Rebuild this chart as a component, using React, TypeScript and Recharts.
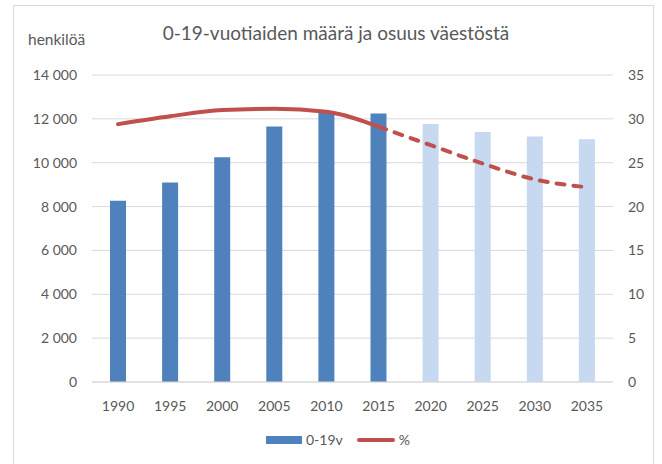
import React from "react";
import { ComposedChart, Bar, Line, XAxis, YAxis, CartesianGrid, Cell } from "recharts";

const years = [1990, 1995, 2000, 2005, 2010, 2015, 2020, 2025, 2030, 2035];
const youthCount = [8260, 9100, 10250, 11650, 12300, 12250, 11770, 11400, 11200, 11070];
const youthShare = [29.4, 30.3, 31.0, 31.15, 30.8, 29.1, 27.0, 24.9, 23.1, 22.2];
const lastActualYear = 2015;
const leftTicks = [0, 2000, 4000, 6000, 8000, 10000, 12000, 14000];
const rightTicks = [0, 5, 10, 15, 20, 25, 30, 35];

const data = years.map((year, i) => ({
  year: String(year),
  count: youthCount[i],
  share: year <= lastActualYear ? youthShare[i] : null,
  shareForecast: year >= lastActualYear ? youthShare[i] : null,
  forecast: year > lastActualYear,
}));

const FONT = "Lato, 'Open Sans', sans-serif";
const TEXT = "#595959";
const GRID = "#d9d9d9";
const BLUE = "#4F81BD";
const LIGHT_BLUE = "#C6D9F1";
const RED = "#C0504D";

const fmt = (v: number) => String(v).replace(/\B(?=(\d{3})+(?!\d))/g, "\u00a0");

const tickStyle = { fill: TEXT, fontSize: 14, fontFamily: FONT };

export default function App() {
  return (
    <div style={{ position: "absolute", left: 0, top: 0, width: 662, height: 464, overflow: "hidden", background: "#fff", fontFamily: FONT }}>
      {/* chart frame, bottom edge runs past the crop */}
      <div style={{ position: "absolute", left: 13, top: 5, width: 641, height: 480, border: `1px solid ${GRID}`, boxSizing: "border-box" }} />
      <div style={{ position: "absolute", left: 0, width: 672, top: 21, textAlign: "center", fontSize: 19, color: TEXT }}>
        0-19-vuotiaiden määrä ja osuus väestöstä
      </div>
      <div style={{ position: "absolute", left: 28, top: 30, fontSize: 15.5, color: TEXT }}>henkilöä</div>

      <div style={{ position: "absolute", left: 0, top: 0 }}>
        <ComposedChart width={662} height={464} data={data} margin={{ top: 75, right: 0, bottom: 42, left: 0 }} barCategoryGap={0}>
          <CartesianGrid vertical={false} stroke={GRID} strokeWidth={1} yAxisId="left" />
          <XAxis
            dataKey="year"
            height={40}
            tickSize={0}
            tickMargin={19}
            tickLine={false}
            axisLine={{ stroke: GRID }}
            tick={tickStyle}
            interval={0}
          />
          <YAxis
            yAxisId="left"
            width={92}
            domain={[0, 14000]}
            ticks={leftTicks}
            tickFormatter={fmt}
            tickSize={0}
            tickMargin={15}
            axisLine={false}
            tickLine={false}
            tick={tickStyle}
            interval={0}
          />
          <YAxis
            yAxisId="right"
            orientation="right"
            width={49}
            domain={[0, 35]}
            ticks={rightTicks}
            tickSize={0}
            tickMargin={15}
            axisLine={false}
            tickLine={false}
            tick={{ ...tickStyle, textAnchor: "start" }}
            interval={0}
          />
          <Bar yAxisId="left" dataKey="count" barSize={16} isAnimationActive={false}>
            {data.map((d) => (
              <Cell key={d.year} fill={d.forecast ? LIGHT_BLUE : BLUE} />
            ))}
          </Bar>
          <Line
            yAxisId="right"
            type="monotone"
            dataKey="share"
            stroke={RED}
            strokeWidth={4}
            strokeLinecap="round"
            dot={false}
            activeDot={false}
            connectNulls={false}
            isAnimationActive={false}
          />
          <Line
            yAxisId="right"
            type="monotone"
            dataKey="shareForecast"
            stroke={RED}
            strokeWidth={4}
            strokeDasharray="8 9"
            strokeLinecap="round"
            dot={false}
            activeDot={false}
            connectNulls={false}
            isAnimationActive={false}
          />
        </ComposedChart>
      </div>

      {/* legend */}
      <div style={{ position: "absolute", left: 266, top: 431, display: "flex", alignItems: "center", fontSize: 14, color: TEXT }}>
        <span style={{ display: "inline-block", width: 36, height: 8, background: BLUE, marginRight: 4 }} />
        <span>0-19v</span>
        <span style={{ display: "inline-block", width: 38, height: 4, borderRadius: 2, background: RED, marginLeft: 14, marginRight: 4 }} />
        <span>%</span>
      </div>
    </div>
  );
}
